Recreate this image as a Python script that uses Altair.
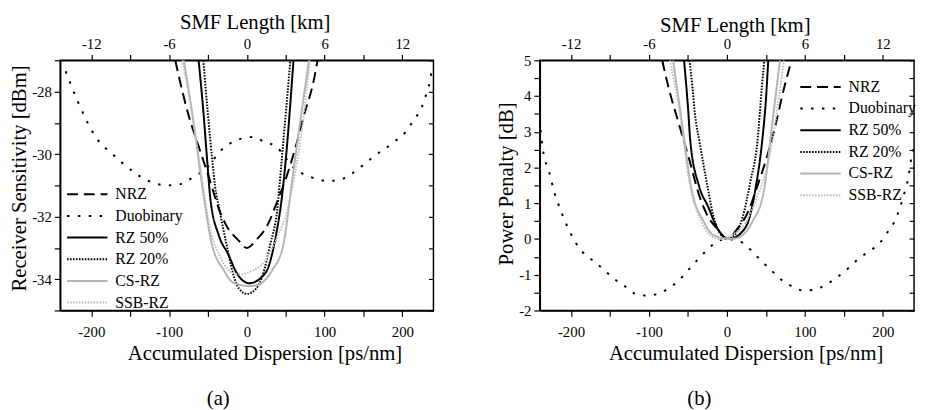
import altair as alt
import pandas as pd

SERIES = ["NRZ", "Duobinary", "RZ 50%", "RZ 20%", "CS-RZ", "SSB-RZ"]
COLORS = ["#000000", "#000000", "#000000", "#000000", "#b4b4b4", "#bdbdbd"]
DASHES = [[11, 6], [2.5, 8.5], [1, 0], [1.6, 1.4], [1, 0], [1.6, 1.4]]

X_TICKS = [-200, -150, -100, -50, 0, 50, 100, 150, 200]
Y_TICKS_A = [-35, -34, -33, -32, -31, -30, -29, -28, -27]
Y_TICKS_B = [-2, -1.5, -1, -0.5, 0, 0.5, 1, 1.5, 2, 2.5, 3, 3.5, 4, 4.5, 5]

# ---- panel (a): receiver sensitivity [dBm] vs accumulated dispersion [ps/nm]
A_NRZ_D = [-92, -87, -75, -62, -48, -36, -26, -11, 0, 12, 28, 37, 54, 63, 73, 86, 91]
A_NRZ_S = [-27.0, -27.56, -28.75, -29.75, -30.8, -31.75, -32.3, -32.75, -33.0, -32.75, -32.2, -31.65, -30.5, -29.75, -28.8, -27.65, -27.0]
A_DUO_D = [-233, -217, -195, -170, -144, -128, -102, -87, -73, -48, -34, -17, 0, 8, 22, 37, 63, 79, 105, 122, 147, 162, 190, 204, 215, 225, 232, 236, 238]
A_DUO_S = [-27.35, -28.34, -29.43, -30.06, -30.6, -30.84, -31.0, -30.97, -30.8, -30.34, -29.9, -29.6, -29.47, -29.45, -29.6, -29.75, -30.5, -30.7, -30.86, -30.8, -30.4, -30.1, -29.6, -29.3, -28.9, -28.5, -27.97, -27.6, -27.2]
A_RZ50_D = [-62, -56, -51, -47, -36, -24, -13, 3, 24, 37, 45, 50, 60]
A_RZ50_S = [-27.0, -28.6, -30.2, -31.4, -32.6, -33.2, -33.8, -34.13, -33.8, -32.66, -31.4, -30.2, -27.0]
A_RZ20_D = [-56, -44, -41, -35, -26, -18, -10, 0, 12, 20, 30, 39, 45, 56]
A_RZ20_S = [-27.0, -30.3, -31.0, -31.8, -32.9, -33.8, -34.3, -34.47, -34.3, -33.9, -32.9, -31.8, -30.15, -27.0]
A_CS_D = [-81, -69, -58, -45, -30, -18, 3, 12, 33, 47, 58, 69, 80]
A_CS_S = [-27.0, -28.9, -30.9, -32.87, -33.7, -34.1, -34.22, -34.2, -33.7, -32.9, -30.9, -28.9, -27.0]
A_SSB_D = [-83, -70, -60, -47, -33, -18, -8, 5, 24, 39, 52, 62, 72, 81]
A_SSB_S = [-27.0, -28.75, -30.4, -32.4, -33.35, -33.8, -33.85, -33.75, -33.4, -32.66, -31.8, -30.6, -29.0, -27.0]

# ---- panel (b): power penalty [dB] vs accumulated dispersion [ps/nm]
B_NRZ_D = [-83, -75, -62, -48, -36, -26, -11, 0, 12, 28, 37, 54, 63, 73, 83]
B_NRZ_P = [5.0, 4.25, 3.25, 2.2, 1.25, 0.7, 0.25, 0.0, 0.25, 0.8, 1.35, 2.5, 3.25, 4.2, 5.0]
B_DUO_D = [-239, -236, -228, -221, -216, -207, -198, -189, -175, -160, -146, -131, -118, -105, -91, -77, -63, -50, -38, -26, -14, 0, 15, 29, 43, 57, 71, 85, 98, 112, 127, 140, 153, 167, 181, 195, 206, 215, 221, 225, 229, 233, 236, 240]
B_DUO_P = [3.05, 2.5, 1.87, 1.28, 0.96, 0.46, 0.05, -0.27, -0.55, -0.82, -1.09, -1.32, -1.53, -1.58, -1.55, -1.41, -1.19, -0.88, -0.59, -0.32, -0.09, 0.0, -0.05, -0.27, -0.59, -0.88, -1.16, -1.34, -1.44, -1.42, -1.28, -1.09, -0.87, -0.59, -0.36, -0.14, 0.19, 0.49, 0.82, 1.09, 1.4, 1.75, 2.2, 2.55]
B_RZ50_D = [-55, -50, -47, -36, -24, -13, 3, 24, 37, 45, 50, 53]
B_RZ50_P = [5.0, 3.7, 2.75, 1.5, 0.9, 0.33, 0.0, 0.33, 1.45, 2.7, 3.9, 5.0]
B_RZ20_D = [-48, -44, -41, -35, -26, -18, -10, 0, 12, 20, 30, 39, 45, 48]
B_RZ20_P = [5.0, 4.2, 3.5, 2.7, 1.6, 0.7, 0.2, 0.0, 0.17, 0.6, 1.6, 2.7, 4.3, 5.0]
B_CS_D = [-69, -58, -45, -30, -18, 3, 12, 33, 47, 58, 68]
B_CS_P = [5.0, 3.3, 1.35, 0.5, 0.12, 0.0, 0.02, 0.5, 1.3, 3.2, 5.0]
B_SSB_D = [-73, -60, -47, -33, -18, -8, 5, 24, 39, 52, 62, 73]
B_SSB_P = [5.0, 3.45, 1.45, 0.5, 0.05, 0.0, 0.1, 0.45, 1.2, 2.05, 3.25, 5.0]

FONT = "Liberation Serif, DejaVu Serif, serif"


def frame(pairs):
    rows = []
    for name, (xs, ys) in zip(SERIES, pairs):
        for x, y in zip(xs, ys):
            rows.append({"D": x, "v": y, "series": name})
    return pd.DataFrame(rows)


df_a = frame([(A_NRZ_D, A_NRZ_S), (A_DUO_D, A_DUO_S), (A_RZ50_D, A_RZ50_S),
              (A_RZ20_D, A_RZ20_S), (A_CS_D, A_CS_S), (A_SSB_D, A_SSB_S)])
df_b = frame([(B_NRZ_D, B_NRZ_P), (B_DUO_D, B_DUO_P), (B_RZ50_D, B_RZ50_P),
              (B_RZ20_D, B_RZ20_P), (B_CS_D, B_CS_P), (B_SSB_D, B_SSB_P)])


def panel(df, ytitle, ydomain, yticks, ylabel_expr, w, h, lx, ly, caption, top_pad, xt_dx, yt_dy, cap_dx):
    xscale = alt.Scale(domain=[-240, 240], nice=False, zero=False)
    yscale = alt.Scale(domain=ydomain, nice=False, zero=False)
    leg = alt.Legend(title=None, orient="none", legendX=lx, legendY=ly,
                     symbolType="M-4.1,0L4.1,0", symbolSize=100, symbolStrokeWidth=2,
                     labelFont=FONT, labelFontSize=16, labelColor="black",
                     labelOffset=20.5, rowPadding=6, padding=0)
    base = alt.Chart(df)
    lines = base.mark_line(clip=True, strokeWidth=2, interpolate="monotone").encode(
        x=alt.X("D:Q", scale=xscale,
                axis=alt.Axis(orient="bottom", values=X_TICKS, title="Accumulated Dispersion [ps/nm]",
                              labelExpr="datum.value % 100 == 0 ? toString(datum.value) : ''",
                              titleX=w / 2 + xt_dx, titlePadding=4, labelPadding=8)),
        y=alt.Y("v:Q", scale=yscale,
                axis=alt.Axis(orient="left", values=yticks, title=ytitle, labelExpr=ylabel_expr,
                              titleY=h / 2 + yt_dy, titlePadding=2)),
        color=alt.Color("series:N", scale=alt.Scale(domain=SERIES, range=COLORS), legend=leg),
        strokeDash=alt.StrokeDash("series:N", scale=alt.Scale(domain=SERIES, range=DASHES), legend=leg),
    )
    ghost = base.mark_line(opacity=0).encode(
        x=alt.X("D:Q", scale=xscale,
                axis=alt.Axis(orient="top", values=X_TICKS, title="SMF Length [km]",
                              labelExpr="datum.value % 100 == 0 ? toString(datum.value * 3 / 50) : ''",
                              titleX=w / 2 + 8, titlePadding=top_pad)),
        y=alt.Y("v:Q", scale=yscale,
                axis=alt.Axis(orient="right", offset=-5, values=yticks, labels=False, domain=False,
                              tickSize=5, title=None)),
    )
    return alt.layer(lines, ghost).resolve_axis(x="independent", y="independent").properties(
        width=w, height=h,
        title=alt.TitleParams(caption, orient="bottom", font=FONT, fontSize=21, fontWeight="normal",
                              color="black", offset=25, dx=cap_dx))


left = panel(df_a, "Receiver Sensitivity [dBm]", [-35, -27], Y_TICKS_A,
             "datum.value % 2 == 0 ? toString(datum.value) : ''",
             379, 254, 19.5, 128, "(a)", 4, 18, -7.5, -29)
right = panel(df_b, "Power Penalty [dB]", [-2, 5], Y_TICKS_B,
              "datum.value % 1 == 0 ? toString(datum.value) : ''",
              380, 254, 277, 19, "(b)", 1, 19, -2, -28)

chart = alt.hconcat(left, right, spacing=60).resolve_scale(
    color="independent", strokeDash="independent"
).resolve_legend(color="independent", strokeDash="independent").properties(
    padding={"left": 0, "top": 0, "right": 0, "bottom": 0}
).configure_view(stroke="black", strokeWidth=1.5).configure_axis(
    labelFont=FONT, labelFontSize=15, labelColor="black", labelPadding=3,
    titleFont=FONT, titleFontSize=21, titleFontWeight="normal", titleColor="black",
    tickColor="black", tickWidth=1.2, tickSize=6, domainColor="black", domainWidth=1.5,
    grid=False, labelOverlap=False
)

chart.save("out.html", embed_options={"renderer": "svg", "actions": False})
